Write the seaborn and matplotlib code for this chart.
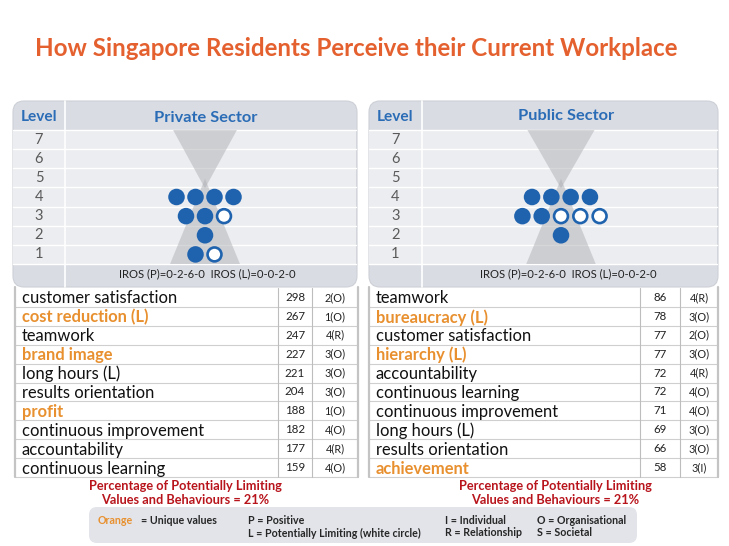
import matplotlib
matplotlib.use("Agg")
import matplotlib.pyplot as plt
from matplotlib.patches import FancyBboxPatch, Rectangle, Polygon
import seaborn as sns
import pandas as pd

sns.set_theme(style="white")
plt.rcParams["font.family"] = ["Lato", "DejaVu Sans"]

# ---------------- data ----------------
title = "How Singapore Residents Perceive their Current Workplace"

private_values = ["customer satisfaction", "cost reduction (L)", "teamwork", "brand image",
                  "long hours (L)", "results orientation", "profit", "continuous improvement",
                  "accountability", "continuous learning"]
private_votes = [298, 267, 247, 227, 221, 204, 188, 182, 177, 159]
private_codes = ["2(O)", "1(O)", "4(R)", "3(O)", "3(O)", "3(O)", "1(O)", "4(O)", "4(R)", "4(O)"]
private_unique = [False, True, False, True, False, False, True, False, False, False]

public_values = ["teamwork", "bureaucracy (L)", "customer satisfaction", "hierarchy (L)",
                 "accountability", "continuous learning", "continuous improvement",
                 "long hours (L)", "results orientation", "achievement"]
public_votes = [86, 78, 77, 77, 72, 72, 71, 69, 66, 58]
public_codes = ["4(R)", "3(O)", "2(O)", "3(O)", "4(R)", "4(O)", "4(O)", "3(O)", "3(O)", "3(I)"]
public_unique = [False, True, False, True, False, False, False, False, False, True]

levels = [7, 6, 5, 4, 3, 2, 1]
panel_titles = ["Private Sector", "Public Sector"]
iros_private = "IROS (P)=0-2-6-0  IROS (L)=0-0-2-0"
iros_public = "IROS (P)=0-2-6-0  IROS (L)=0-0-2-0"
limiting_private = 21
limiting_public = 21

# ---------------- styles ----------------
W, H = 729, 546
TITLE_C = "#E4602E"
BLUE = "#2A6CB6"
DOT = "#1F63AE"
ORANGE = "#E8902F"
RED = "#B8141C"
HEADER_BG = "#D9DCE3"
ROW_BG = "#ECEDF0"
GRID = "#CFCFCF"
TXT = "#111111"

fig = plt.figure(figsize=(W / 100, H / 100), dpi=100)
bg = fig.add_axes([0, 0, 1, 1])
bg.set_xlim(0, W)
bg.set_ylim(H, 0)
bg.axis("off")

bg.text(35, 48, title, fontsize=17.4, fontweight="bold", color=TITLE_C, ha="left", va="center")

ROW_TOP, ROW_BOT = 130, 264
RH = (ROW_BOT - ROW_TOP) / 7


def dot_frame(values, codes):
    rows = []
    for v, c in zip(values, codes):
        rows.append((int(c[0]), "L" if "(L)" in v else "P"))
    df = pd.DataFrame(rows, columns=["level", "kind"])
    df["order"] = df["kind"].map({"P": 0, "L": 1})
    df = df.sort_values(["level", "order"], kind="stable").reset_index(drop=True)
    df["idx"] = df.groupby("level").cumcount()
    df["n"] = df.groupby("level")["level"].transform("size")
    df["slot"] = df["idx"] - (df["n"] - 1) / 2
    return df


def panel(x0, x1, sep, ptitle, tx, ty, cx, spacing, top_hw, bot_hw, values, codes, iros, ix):
    bg.add_patch(FancyBboxPatch((x0, 101), x1 - x0, 186,
                                boxstyle="round,pad=0,rounding_size=11",
                                fc=HEADER_BG, ec="#CDD0D6", lw=0.8, zorder=1))
    for i in range(7):
        bg.add_patch(Rectangle((x0 + 0.5, ROW_TOP + i * RH), x1 - x0 - 1, RH,
                               fc=ROW_BG, ec="none", zorder=2))
    for i in range(8):
        y = ROW_TOP + i * RH
        bg.plot([x0 + 0.5, x1 - 0.5], [y, y], color="white", lw=1.0, zorder=4)
    bg.plot([sep, sep], [101, 287], color="white", lw=1.2, zorder=4)
    bg.text((x0 + sep) / 2, 117, "Level", fontsize=11.2, fontweight="bold", color=BLUE,
            ha="center", va="center", zorder=5)
    bg.text(tx, ty, ptitle, fontsize=11.8, fontweight="bold", color=BLUE,
            ha="center", va="center", zorder=5)
    for i, lv in enumerate(levels):
        bg.text((x0 + sep) / 2, ROW_TOP + (i + 0.5) * RH, str(lv), fontsize=10.5,
                color="#5A5A5A", ha="center", va="center", zorder=5)
    bg.text(ix, 274, iros, fontsize=8.1, color="#222222", ha="center", va="center", zorder=5)

    ax = fig.add_axes([sep / W, 1 - ROW_BOT / H, (x1 - sep) / W, (ROW_BOT - ROW_TOP) / H])
    ax.set_xlim(-(cx - sep) / spacing, (x1 - cx) / spacing)
    ax.set_ylim(0.5, 7.5)
    ax.axis("off")
    ax.patch.set_alpha(0)
    ax.add_patch(Polygon([(-top_hw, 7.5), (top_hw, 7.5), (0, 4.45)], closed=True,
                         fc="#AEB0B5", ec="none", alpha=0.5, zorder=1))
    ax.add_patch(Polygon([(-bot_hw, 0.5), (bot_hw, 0.5), (0, 4.95)], closed=True,
                         fc="#AEB0B5", ec="none", alpha=0.5, zorder=1))
    df = dot_frame(values, codes)
    sns.scatterplot(data=df, x="slot", y="level", hue="kind",
                    palette={"P": DOT, "L": "white"}, edgecolor=DOT, linewidth=1.9,
                    s=100, legend=False, ax=ax, zorder=3)
    ax.set_xlabel("")
    ax.set_ylabel("")


def table(x0, x1, c1, c2, values, votes, codes, unique):
    top, pitch = 288, 18.9
    n = len(values)
    bot = top + n * pitch
    for i in range(1, n + 1):
        y = top + i * pitch
        bg.plot([x0, x1], [y, y], color=GRID, lw=0.8, zorder=2)
    for x in (c1, c2):
        bg.plot([x, x], [top, bot], color="#BDBDBD", lw=0.8, zorder=2)
    for x in (x0, x1):
        bg.plot([x, x], [top - 1, bot], color="#C4C4C4", lw=1.6, zorder=2)
    for i, (v, n_, c, u) in enumerate(zip(values, votes, codes, unique)):
        y = top + (i + 0.5) * pitch + 1
        bg.text(x0 + 7, y, v, fontsize=11.9, color=ORANGE if u else TXT,
                fontweight="bold" if u else "normal", ha="left", va="center", zorder=3)
        bg.text((c1 + c2) / 2, y - 1, str(n_), fontsize=8.3, color="#222222",
                ha="center", va="center", zorder=3)
        bg.text((c2 + x1) / 2, y - 1, c, fontsize=7.8, color="#222222",
                ha="center", va="center", zorder=3)


panel(13, 357, 65, panel_titles[0], 206, 118, 205, 19.0, 1.68, 1.84,
      private_values, private_codes, iros_private, 207.5)
panel(369, 718, 422, panel_titles[1], 566, 116, 561, 19.3, 1.74, 1.80,
      public_values, public_codes, iros_public, 568)

table(15, 358, 278, 312, private_values, private_votes, private_codes, private_unique)
table(369, 718, 640, 680, public_values, public_votes, public_codes, public_unique)

for cx, pct in ((185, limiting_private), (555, limiting_public)):
    bg.text(cx, 486, "Percentage of Potentially Limiting", fontsize=9.2, fontweight="bold",
            color=RED, ha="center", va="center")
    bg.text(cx, 500, f"Values and Behaviours = {pct}%", fontsize=9.2, fontweight="bold",
            color=RED, ha="center", va="center")

# legend box
bg.add_patch(FancyBboxPatch((89, 507), 548, 36, boxstyle="round,pad=0,rounding_size=8",
                            fc="#E2E4E9", ec="none", zorder=1))
LEG = "#262626"
lfs = 7.7
bg.text(98, 520, "Orange", fontsize=lfs, fontweight="bold", color=ORANGE, ha="left", va="center", zorder=2)
bg.text(141, 520, "= Unique values", fontsize=lfs, fontweight="bold", color=LEG, ha="left", va="center", zorder=2)
bg.text(248, 520, "P = Positive", fontsize=lfs, fontweight="bold", color=LEG, ha="left", va="center", zorder=2)
bg.text(248, 533, "L = Potentially Limiting (white circle)", fontsize=lfs, fontweight="bold", color=LEG, ha="left", va="center", zorder=2)
bg.text(445, 520, "I = Individual", fontsize=lfs, fontweight="bold", color=LEG, ha="left", va="center", zorder=2)
bg.text(445, 533, "R = Relationship", fontsize=lfs, fontweight="bold", color=LEG, ha="left", va="center", zorder=2)
bg.text(537, 520, "O = Organisational", fontsize=lfs, fontweight="bold", color=LEG, ha="left", va="center", zorder=2)
bg.text(537, 533, "S = Societal", fontsize=lfs, fontweight="bold", color=LEG, ha="left", va="center", zorder=2)

fig.savefig("out.png", dpi=100, facecolor="white")
